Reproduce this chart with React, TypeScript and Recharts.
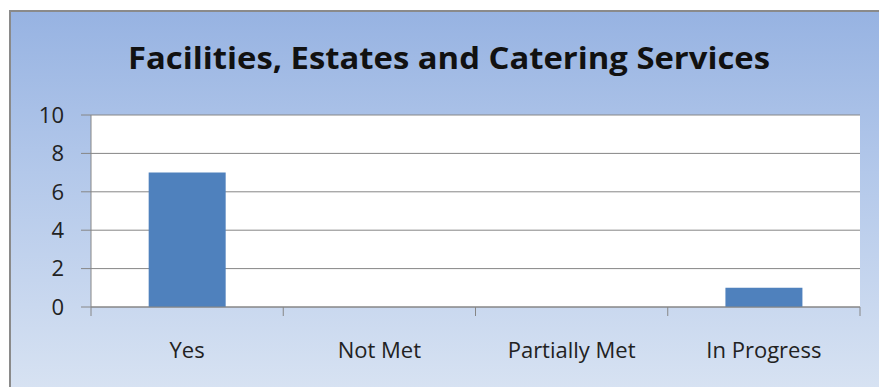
import { BarChart, Bar, XAxis, YAxis, CartesianGrid } from "recharts";

const categories = ["Yes", "Not Met", "Partially Met", "In Progress"];
const counts = [7, 0, 0, 1];
const yTicks = [0, 2, 4, 6, 8, 10];
const title = "Facilities, Estates and Catering Services";

const data = categories.map((name, i) => ({ name, count: counts[i] }));

const FONT = "'Open Sans', sans-serif";
const AXIS = "#868686";

// category axis: tick marks sit on the boundaries between categories
function CategoryTick(props: any) {
  const { x, y, payload } = props;
  const half = payload.offset || 0;
  const last = payload.index === categories.length - 1;
  return (
    <g>
      <line x1={x - half} x2={x - half} y1={y - 9} y2={y} stroke={AXIS} />
      {last && <line x1={x + half} x2={x + half} y1={y - 9} y2={y} stroke={AXIS} />}
      <text x={x} y={y + 42} textAnchor="middle" fill="#222" fontSize={22} fontFamily={FONT}>
        {payload.value}
      </text>
    </g>
  );
}

export default function App() {
  return (
    <div style={{ position: "fixed", left: 0, top: 0, width: 879, height: 387, overflow: "hidden", background: "#fff" }}>
      <div
        style={{
          position: "absolute",
          left: 9,
          top: 10,
          width: 900,
          height: 400,
          border: "2px solid #8a8a8a",
          background: "linear-gradient(to bottom, #97b3e2 0%, #b3c8ea 40%, #dbe5f3 100%)",
        }}
      />
      <div style={{ position: "absolute", left: 0, top: 0 }}>
        <BarChart
          width={879}
          height={387}
          data={data}
          margin={{ top: 115, right: 19, bottom: 20, left: 0 }}
          barCategoryGap="30%"
        >
          <CartesianGrid vertical={false} stroke={AXIS} fill="#ffffff" />
          <XAxis
            dataKey="name"
            height={60}
            axisLine={{ stroke: AXIS }}
            tickLine={false}
            tickSize={9}
            tickMargin={0}
            interval={0}
            tick={<CategoryTick />}
          />
          <YAxis
            width={91}
            domain={[0, 10]}
            ticks={yTicks}
            axisLine={{ stroke: AXIS }}
            tickLine={{ stroke: AXIS }}
            tickSize={10}
            tickMargin={17}
            tick={{ fill: "#222", fontSize: 22, fontFamily: FONT }}
          />
          <Bar dataKey="count" fill="#4f81bd" isAnimationActive={false} />
        </BarChart>
      </div>
      <svg width={879} height={100} style={{ position: "absolute", left: 0, top: 0 }}>
        <text
          x={449}
          y={69}
          textAnchor="middle"
          fontSize={30}
          fontWeight="bold"
          fontFamily={FONT}
          fill="#111"
          textLength={642}
          lengthAdjust="spacingAndGlyphs"
        >
          {title}
        </text>
      </svg>
    </div>
  );
}
